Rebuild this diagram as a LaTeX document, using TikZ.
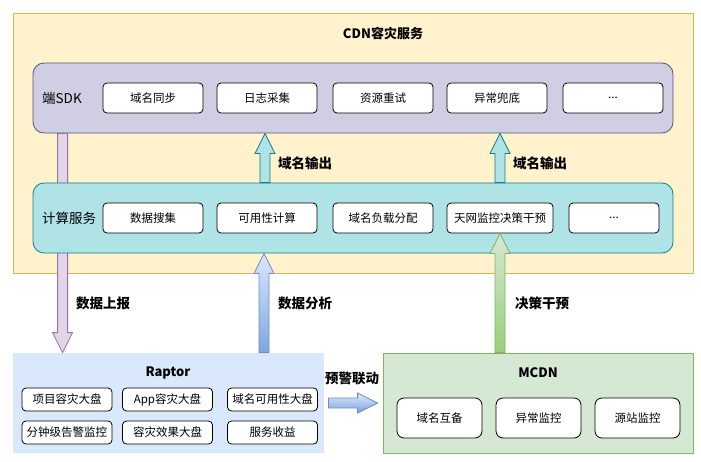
\documentclass[tikz,border=0pt]{standalone}
\usepackage{fontspec}
\setmainfont{Noto Sans CJK SC}
\usetikzlibrary{calc}
\definecolor{cdnfill}{HTML}{FFF2CC}
\definecolor{cdnline}{HTML}{D6B656}
\definecolor{sdkfill}{HTML}{D0CEE2}
\definecolor{sdkline}{HTML}{56517E}
\definecolor{compfill}{HTML}{B0E3E6}
\definecolor{compline}{HTML}{0E8088}
\definecolor{upfill}{HTML}{E1D5E7}
\definecolor{upline}{HTML}{9673A6}
\definecolor{rapfill}{HTML}{DAE8FC}
\definecolor{rapline}{HTML}{6C8EBF}
\definecolor{bluedark}{HTML}{7EA6E0}
\definecolor{mcdnfill}{HTML}{D5E8D4}
\definecolor{mcdnline}{HTML}{82B366}
\definecolor{greendark}{HTML}{97D077}
% wide block arrow from #2 to #3
\newcommand{\flexarrow}[3]{%
  \coordinate (fa-s) at (#2);
  \coordinate (fa-t) at (#3);
  \coordinate (fa-h) at ($(fa-t)!20pt!(fa-s)$);
  \path[#1] ($(fa-s)!5pt!90:(fa-t)$) -- ($(fa-h)!5pt!90:(fa-t)$)
    -- ($(fa-h)!10pt!90:(fa-t)$) -- (fa-t) -- ($(fa-h)!10pt!-90:(fa-t)$)
    -- ($(fa-h)!5pt!-90:(fa-t)$) -- ($(fa-s)!5pt!-90:(fa-t)$) -- cycle;}
\begin{document}
\begin{tikzpicture}[x=1pt, y=-1pt,
        item/.style={draw=black, fill=white, rounded corners=4pt, line width=0.8pt,
            minimum width=100pt, minimum height=30pt, inner sep=0pt,
            font=\fontsize{11.5}{14}\selectfont},
        ritem/.style={item, minimum width=90pt, minimum height=23pt},
        mitem/.style={item, rounded corners=7pt, minimum width=85pt, minimum height=40pt},
        layer/.style={rounded corners=11pt, line width=0.8pt, minimum width=640pt,
            minimum height=70pt, inner sep=0pt},
        panel/.style={line width=0.8pt, minimum width=310pt, minimum height=100pt,
            inner sep=0pt},
        title/.style={font=\fontsize{13}{15}\bfseries\selectfont},
        tag/.style={font=\fontsize{13.5}{16}\bfseries\selectfont, anchor=west, inner sep=0pt},
        group/.style={font=\fontsize{13.5}{16}\selectfont, anchor=west, inner sep=0pt}]
    \useasboundingbox (0,0) rectangle (701,461);
    % CDN service
    \node[draw=cdnline, fill=cdnfill, line width=0.8pt, minimum width=680pt,
        minimum height=260pt, inner sep=0pt] (cdn) at (353,143) {};
    \node[title] (cdntitle) at (383,33) {CDN容灾服务};
    \node[layer, draw=sdkline, fill=sdkfill] (sdk) at (353,98) {};
    \node[group] (sdklabel) at (42,98) {端SDK};
    \foreach \x/\t [count=\i] in {153/域名同步, 267/日志采集, 383/资源重试, 497/异常兜底, 613/{...}}
        \node[item] (sdk\i) at (\x,98) {\t};
    % Raptor and MCDN
    \node[panel, fill=rapfill, minimum width=311pt] (raptor) at (168.5,403) {};
    \node[title] (raptitle) at (168,373) {Raptor};
    \foreach \x/\y/\t [count=\i] in {67/399.5/项目容灾大盘, 167.5/399.5/App容灾大盘,
            272.5/399.5/域名可用性大盘, 67/432.5/分钟级告警监控, 167.5/432.5/容灾效果大盘,
            272.5/432.5/服务收益}
        \node[ritem] (rap\i) at (\x,\y) {\t};
    \node[panel, draw=mcdnline, fill=mcdnfill] (mcdn) at (538,403) {};
    \node[title] (mcdntitle) at (538,373) {MCDN};
    \foreach \x/\t [count=\i] in {439.5/域名互备, 538.5/异常监控, 637.5/源站监控}
        \node[mitem] (mcdn\i) at (\x,418) {\t};
    % data report, behind the compute layer
    \flexarrow{draw=upline, fill=upfill, line width=0.8pt}{$(sdk.south west)+(30,0)$}{$(raptor.north west)+(50,0)$}
    \node[tag] (report) at (76,303) {数据上报};
    % compute layer
    \node[layer, draw=compline, fill=compfill] (comp) at (353,218) {};
    \node[group] (complabel) at (42,218) {计算服务};
    \node[item] (comp1) at (153,218) {数据搜集};
    \node[item] (comp2) at (267,218) {可用性计算};
    \node[item] (comp3) at (383,218) {域名负载分配};
    \node[item, minimum width=106pt] (comp4) at (500,218) {天网监控决策干预};
    \node[item, minimum width=90pt] (comp5) at (614,218) {...};
    % arrows
    \flexarrow{draw=compline, fill=compfill, line width=0.8pt}{$(comp2 |- comp.north)+(-2,0)$}{$(comp2 |- sdk.south)+(-2,0)$}
    \node[tag] (out1) at (278,163) {域名输出};
    \flexarrow{draw=compline, fill=compfill, line width=0.8pt}{comp4 |- comp.north}{comp4 |- sdk.south}
    \node[tag] (out2) at (513,163) {域名输出};
    \flexarrow{draw=rapline, top color=rapfill, bottom color=bluedark, line width=0.8pt}{$(comp2 |- raptor.north)+(-3,0)$}{$(comp2 |- comp.south)+(-3,0)$}
    \node[tag] (analysis) at (278,303) {数据分析};
    \flexarrow{draw=mcdnline, top color=mcdnfill, bottom color=greendark, line width=0.8pt}{comp4 |- mcdn.north}{comp4.south}
    \node[tag] (decide) at (515,303) {决策干预};
    \flexarrow{draw=rapline, top color=rapfill, bottom color=bluedark, line width=0.8pt}{$(raptor.east)+(4,0)$}{$(mcdn.west)+(-5,0)$}
    \node[tag] (alarm) at (325,378) {预警联动};
\end{tikzpicture}
\end{document}
